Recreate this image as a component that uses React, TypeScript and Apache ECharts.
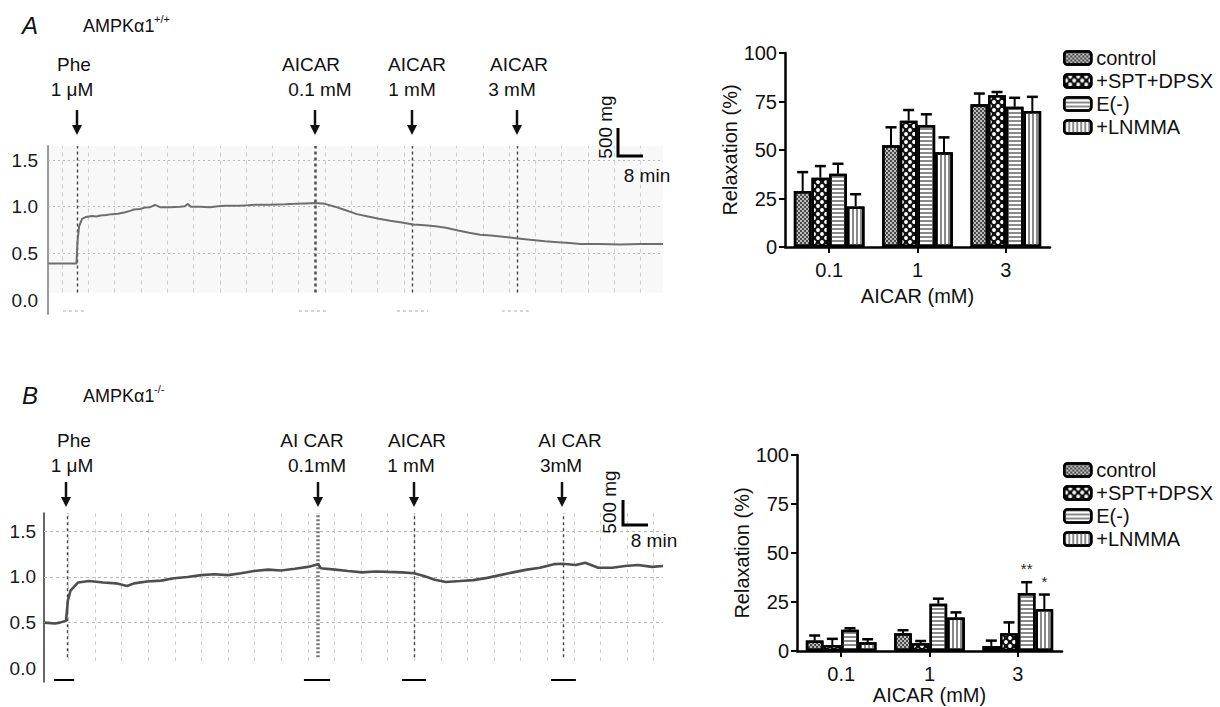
import React, { useEffect, useRef } from 'react';
import * as echarts from 'echarts';

const FONT = '"Liberation Sans", Arial, Helvetica, sans-serif';

// ---------- Bar charts ----------
const groups = ['0.1', '1', '3'];
const seriesNames = ['control', '+SPT+DPSX', 'E(-)', '+LNMMA'];

// Panel A (AMPKα1+/+), relaxation (%) mean and SEM
const ctrlMeanA = [28.9, 52.4, 73.6];
const ctrlSemA = [9.7, 9.3, 5.5];
const sptMeanA = [35.7, 65.1, 78.2];
const sptSemA = [6.0, 5.5, 1.7];
const eMeanA = [37.8, 62.9, 72.3];
const eSemA = [5.1, 5.5, 4.6];
const lnMeanA = [20.9, 48.8, 70.1];
const lnSemA = [6.3, 7.7, 7.3];

// Panel B (AMPKα1-/-)
const ctrlMeanB = [5.3, 9.1, 2.6];
const ctrlSemB = [2.6, 1.5, 2.7];
const sptMeanB = [3.1, 3.9, 9.1];
const sptSemB = [3.1, 1.2, 5.5];
const eMeanB = [10.8, 24.1, 29.6];
const eSemB = [0.8, 2.6, 5.5];
const lnMeanB = [4.5, 17.1, 21.4];
const lnSemB = [1.5, 2.6, 7.4];
const sigE_B = ['', '', '**'];
const sigLn_B = ['', '', '*'];

const yTicksBar = [0, 25, 50, 75, 100];

// ---------- Tension traces (time in min, tension in g) ----------
const traceATime = [-4.2, -2, 2, 4.4, 4.7, 5.2, 6.1, 7.3, 9.1, 10.5, 11.6, 13.4, 15.2, 17.0, 19.2, 20.7, 21.9, 23.7, 25.2, 26.8, 28.3, 29.8, 32.9, 35.9, 37.4, 38.3, 39.2, 42.0, 45.0, 47.5, 49.6, 54.1, 56.5, 58.7, 63.3, 67.8, 70.9, 73.9, 77.0, 80.0, 83.0, 86.1, 89.7, 93.1, 96.4, 99.8, 103.4, 106.8, 110.4, 113.5, 116.8, 120.5, 123.8, 127.2, 130.5, 134.8, 138.7, 142.4, 146.9, 150.9, 154.5, 157.6, 163.7, 169.7, 175.8, 182.8];
const traceAValue = [0.39, 0.39, 0.39, 0.39, 0.62, 0.79, 0.87, 0.89, 0.90, 0.895, 0.905, 0.91, 0.92, 0.925, 0.94, 0.955, 0.97, 0.975, 0.99, 0.995, 1.02, 0.995, 0.995, 1.0, 1.005, 1.03, 1.0, 1.0, 0.995, 1.005, 1.01, 1.01, 1.015, 1.02, 1.02, 1.025, 1.03, 1.035, 1.04, 1.03, 1.0, 0.965, 0.92, 0.895, 0.87, 0.85, 0.83, 0.81, 0.80, 0.79, 0.775, 0.745, 0.72, 0.70, 0.69, 0.675, 0.66, 0.645, 0.63, 0.62, 0.61, 0.60, 0.60, 0.595, 0.60, 0.60];
const eventsA = [4.6, 77.0, 106.5, 138.4];
const underMarksA = [[0.3, 7.6], [72.1, 80.9], [101.9, 111.3], [133.8, 142.7]];
const xRangeA = [-4.26, 182.8];

const traceBTime = [-7.2, -4.1, -2.6, -0.75, -0.2, 0.6, 2.9, 6.2, 10.4, 14.3, 17.6, 19.7, 23.6, 27.8, 31.7, 35.8, 39.9, 43.8, 48.0, 51.9, 55.8, 60.0, 63.9, 68.1, 72.0, 75.1, 75.9, 80.2, 84.1, 88.3, 92.2, 96.1, 100.3, 103.9, 106.9, 110.2, 113.5, 117.8, 121.7, 125.9, 129.8, 133.7, 137.9, 141.8, 146.0, 148.7, 152.6, 155.4, 159.3, 163.5, 167.4, 171.3, 175.5, 178.8];
const traceBValue = [0.50, 0.49, 0.50, 0.52, 0.74, 0.85, 0.94, 0.955, 0.94, 0.93, 0.90, 0.93, 0.95, 0.96, 0.985, 1.00, 1.02, 1.03, 1.02, 1.04, 1.065, 1.08, 1.07, 1.09, 1.11, 1.14, 1.095, 1.08, 1.065, 1.05, 1.06, 1.055, 1.05, 1.04, 1.01, 0.97, 0.945, 0.955, 0.965, 0.99, 1.02, 1.05, 1.08, 1.10, 1.14, 1.145, 1.13, 1.155, 1.10, 1.10, 1.12, 1.13, 1.11, 1.12];
const eventsB = [-0.45, 75.1, 103.9, 148.7];
const underMarksB = [[-4.4, 1.7], [70.8, 78.7], [100.3, 107.5], [145.1, 152.6]];
const xRangeB = [-7.37, 178.8];

const gridMinutes = [0, 8, 16, 24, 32, 40, 48, 56, 64, 72, 80, 88, 96, 104, 112, 120, 128, 136, 144, 152, 160, 168, 176];
const hGridValues = [0.5, 1.0, 1.5];
const traceYTicks = [0, 0.5, 1.0, 1.5];

// ---------- styles ----------
const barColors = ['#bdbdbd', '#111111', '#ffffff', '#ffffff'];
const barDecals: any[] = [
  { symbol: 'rect', symbolSize: 1, dashArrayX: [[2, 2], [0, 2, 2, 0]], dashArrayY: [2, 0], color: '#4a4a4a' },
  { symbol: 'circle', symbolSize: 0.95, dashArrayX: [[3.5, 3.5], [0, 3.5, 3.5, 0]], dashArrayY: [3.5, 0], color: '#ffffff' },
  { symbol: 'rect', symbolSize: 1, dashArrayX: [1, 0], dashArrayY: [2, 2], color: '#8a8a8a' },
  { symbol: 'rect', symbolSize: 1, dashArrayX: [2, 2], dashArrayY: [1, 0], color: '#8a8a8a' },
];

function zip(a: number[], b: number[]) {
  return a.map((t, i) => [t, b[i]]);
}

function barSeries(k: number, means: number[], axis: number) {
  return {
    type: 'bar',
    name: seriesNames[k],
    xAxisIndex: axis,
    yAxisIndex: axis,
    data: means,
    barGap: '0%',
    barCategoryGap: '20%',
    z: 2,
    itemStyle: { color: barColors[k], borderColor: '#000', borderWidth: 2.5, decal: barDecals[k] },
  };
}

function errSeries(k: number, means: number[], sems: number[], axis: number, sig?: string[]) {
  return {
    type: 'custom',
    xAxisIndex: axis,
    yAxisIndex: axis,
    z: 4,
    silent: true,
    data: means.map((m, i) => [i, m, sems[i]]),
    encode: { x: 0, y: 1 },
    renderItem: (params: any, api: any) => {
      const ci = api.value(0);
      const m = api.value(1);
      const s = api.value(2);
      const p = api.coord([ci, m]);
      const band = api.size([1, 0])[0];
      const bw = (band * 0.8) / 4;
      const x = p[0] - band * 0.4 + (k + 0.5) * bw;
      const yTop = api.coord([ci, m + s])[1];
      const children: any[] = [
        { type: 'line', shape: { x1: x, y1: p[1], x2: x, y2: yTop }, style: { stroke: '#000', lineWidth: 2 } },
        { type: 'line', shape: { x1: x - 5.5, y1: yTop, x2: x + 5.5, y2: yTop }, style: { stroke: '#000', lineWidth: 2.5 } },
      ];
      const t = sig ? sig[params.dataIndex] : '';
      if (t) {
        children.push({
          type: 'text',
          style: { text: t, x, y: yTop - 6, align: 'center', verticalAlign: 'bottom', fontSize: 15, fill: '#222', fontFamily: FONT },
        });
      }
      return { type: 'group', children };
    },
  };
}

function traceDecor(axis: number, xr: number[], events: number[], under: number[][], panel: 'A' | 'B') {
  const vStyle = { color: panel === 'A' ? '#cfcfcf' : '#d2d2d2', width: 1, type: [4, 4] };
  const hStyle = { color: '#b8b8b8', width: 1.2, type: panel === 'A' ? [2, 3] : [3, 3] };
  const lineData: any[] = [];
  hGridValues.forEach((v) => lineData.push({ yAxis: v, lineStyle: hStyle }));
  gridMinutes.forEach((t) =>
    lineData.push([
      { coord: [t, 0.08], lineStyle: vStyle },
      { coord: [t, panel === 'A' ? 1.65 : 1.7], lineStyle: vStyle },
    ])
  );
  events.forEach((t, i) => {
    let st: any = { color: '#444', width: 1.4, type: [3, 3] };
    if (i === 1) st = panel === 'A' ? { color: '#555', width: 2.6, type: [3, 3] } : { color: '#777', width: 3.5, type: [2, 2] };
    lineData.push([
      { coord: [t, panel === 'A' ? 0.08 : 0.12], lineStyle: st },
      { coord: [t, panel === 'A' ? 1.65 : 1.7], lineStyle: st },
    ]);
  });
  under.forEach(([a, b]) => {
    const st = panel === 'A' ? { color: '#c8c8c8', width: 1.5, type: [3, 3] } : { color: '#000', width: 2, type: 'solid' };
    lineData.push([
      { coord: [a, -0.12], lineStyle: st },
      { coord: [b, -0.12], lineStyle: st },
    ]);
  });
  const s: any = {
    type: 'line',
    xAxisIndex: axis,
    yAxisIndex: axis,
    data: [],
    z: 1,
    silent: true,
    markLine: { silent: true, z: 1, symbol: ['none', 'none'], label: { show: false }, data: lineData },
  };
  if (panel === 'A') {
    s.markArea = {
      silent: true,
      z: 0,
      itemStyle: { color: '#f8f8f8' },
      data: [[{ coord: [xr[0], 0.08] }, { coord: [xr[1], 1.65] }]],
    };
  }
  return s;
}

function traceAxisY(gridIndex: number, max: number, lineColor: string, lineWidth: number, margin: number) {
  return {
    type: 'value',
    gridIndex,
    min: -0.15,
    max,
    interval: 0.05,
    axisLine: { show: true, onZero: false, lineStyle: { color: lineColor, width: lineWidth } },
    axisTick: { show: false },
    splitLine: { show: false },
    axisLabel: {
      fontSize: 19,
      color: '#1a1a1a',
      fontFamily: FONT,
      margin,
      formatter: (v: number) => {
        const hit = traceYTicks.find((t) => Math.abs(t - v) < 1e-6);
        return hit === undefined ? '' : hit.toFixed(1);
      },
    },
  };
}

function barAxisX(gridIndex: number, nameGap: number) {
  return {
    type: 'category',
    gridIndex,
    data: groups,
    axisLine: { show: true, onZero: false, lineStyle: { color: '#000', width: 2.5 } },
    axisTick: { show: true, alignWithLabel: true, length: 6, lineStyle: { color: '#000', width: 2 } },
    axisLabel: { fontSize: 20, color: '#111', fontFamily: FONT, margin: 13 },
    name: 'AICAR (mM)',
    nameLocation: 'middle',
    nameGap,
    nameTextStyle: { fontSize: 20, color: '#111', fontFamily: FONT },
  };
}

function barAxisY(gridIndex: number) {
  return {
    type: 'value',
    gridIndex,
    min: yTicksBar[0],
    max: yTicksBar[yTicksBar.length - 1],
    interval: 25,
    axisLine: { show: true, onZero: false, lineStyle: { color: '#000', width: 2.5 } },
    axisTick: { show: true, length: 6, lineStyle: { color: '#000', width: 2 } },
    splitLine: { show: false },
    axisLabel: { fontSize: 20, color: '#111', fontFamily: FONT, margin: 8 },
    name: 'Relaxation (%)',
    nameLocation: 'middle',
    nameRotate: 90,
    nameGap: 42,
    nameTextStyle: { fontSize: 20, color: '#111', fontFamily: FONT },
  };
}

function txt(text: string, x: number, y: number, size = 19, extra: any = {}, align = 'center') {
  return {
    type: 'text',
    x,
    y,
    z: 100,
    style: { text, fill: '#111', fontSize: size, fontFamily: FONT, align, verticalAlign: 'middle', ...extra },
  };
}

function arrow(x: number, y1: number, y2: number) {
  return [
    { type: 'line', z: 100, shape: { x1: x, y1, x2: x, y2: y2 - 8 }, style: { stroke: '#111', lineWidth: 2.5 } },
    { type: 'polygon', z: 100, shape: { points: [[x - 5, y2 - 10], [x + 5, y2 - 10], [x, y2]] }, style: { fill: '#111' } },
  ];
}

function scaleBar(x: number, yTop: number, yBot: number, len: number) {
  return {
    type: 'polyline',
    z: 100,
    shape: { points: [[x, yTop], [x, yBot], [x + len, yBot]] },
    style: { stroke: '#000', lineWidth: 3, fill: 'none' },
  };
}

function buildOption() {
  const graphics: any[] = [
    // Panel A header
    txt('A', 22, 25, 24, { fontStyle: 'italic' }, 'left'),
    txt('AMPKα1', 83, 26, 18, {}, 'left'),
    txt('+/+', 154, 19, 11, {}, 'left'),
    txt('Phe', 74, 64),
    txt('1 μM', 72, 89),
    ...arrow(77, 110, 135),
    txt('AICAR', 311, 64),
    txt('0.1 mM', 320, 89),
    ...arrow(315, 110, 135),
    txt('AICAR', 417, 64),
    txt('1 mM', 412, 89),
    ...arrow(412, 110, 135),
    txt('AICAR', 519, 64),
    txt('3 mM', 512, 89),
    ...arrow(517, 110, 135),
    { ...txt('500 mg', 605, 127), rotation: Math.PI / 2 },
    scaleBar(618, 128, 156, 25),
    txt('8 min', 647, 175),
    // Panel B header
    txt('B', 22, 395, 24, { fontStyle: 'italic' }, 'left'),
    txt('AMPKα1', 83, 396, 18, {}, 'left'),
    txt('-/-', 154, 389, 11, {}, 'left'),
    txt('Phe', 74, 440),
    txt('1 μM', 72, 465),
    ...arrow(66, 482, 507),
    txt('AI CAR', 312, 440),
    txt('0.1mM', 317, 465),
    ...arrow(318, 482, 507),
    txt('AICAR', 417, 440),
    txt('1 mM', 411, 465),
    ...arrow(414, 482, 507),
    txt('AI CAR', 570, 440),
    txt('3mM', 561, 465),
    ...arrow(562, 482, 507),
    { ...txt('500 mg', 609, 502), rotation: Math.PI / 2 },
    scaleBar(623, 500, 525, 25),
    txt('8 min', 654, 540),
  ];

  const legendBase = {
    orient: 'vertical',
    left: 1058,
    itemWidth: 27,
    itemHeight: 13,
    itemGap: 3,
    icon: 'roundRect',
    selectedMode: false,
    data: seriesNames,
    itemStyle: { borderColor: '#000', borderWidth: 2.5 },
    textStyle: { fontSize: 20, lineHeight: 20, color: '#111', fontFamily: FONT },
  };

  return {
    animation: false,
    backgroundColor: '#ffffff',
    textStyle: { fontFamily: FONT },
    grid: [
      { left: 48, right: 557, top: 146, bottom: 393, outerBoundsMode: 'none' },
      { left: 44, right: 557, top: 513, bottom: 25, outerBoundsMode: 'none' },
      { left: 785, right: 170, top: 53, bottom: 460, outerBoundsMode: 'none' },
      { left: 797, right: 158, top: 455, bottom: 56, outerBoundsMode: 'none' },
    ],
    xAxis: [
      { type: 'value', gridIndex: 0, min: xRangeA[0], max: xRangeA[1], show: false },
      { type: 'value', gridIndex: 1, min: xRangeB[0], max: xRangeB[1], show: false },
      barAxisX(2, 39),
      barAxisX(3, 34),
    ],
    yAxis: [
      traceAxisY(0, 1.65, '#9a9a9a', 2, 10),
      traceAxisY(1, 1.7, '#333', 1.5, 8),
      barAxisY(2),
      barAxisY(3),
    ],
    legend: [
      { ...legendBase, top: 43 },
      { ...legendBase, top: 455 },
    ],
    graphic: graphics,
    series: [
      traceDecor(0, xRangeA, eventsA, underMarksA, 'A'),
      traceDecor(1, xRangeB, eventsB, underMarksB, 'B'),
      {
        type: 'line', xAxisIndex: 0, yAxisIndex: 0, data: zip(traceATime, traceAValue),
        showSymbol: false, symbol: 'none', z: 3, silent: true,
        lineStyle: { color: '#6e6e6e', width: 2 },
      },
      {
        type: 'line', xAxisIndex: 1, yAxisIndex: 1, data: zip(traceBTime, traceBValue),
        showSymbol: false, symbol: 'none', z: 3, silent: true,
        lineStyle: { color: '#4e4e4e', width: 2.6 },
      },
      barSeries(0, ctrlMeanA, 2),
      barSeries(1, sptMeanA, 2),
      barSeries(2, eMeanA, 2),
      barSeries(3, lnMeanA, 2),
      errSeries(0, ctrlMeanA, ctrlSemA, 2),
      errSeries(1, sptMeanA, sptSemA, 2),
      errSeries(2, eMeanA, eSemA, 2),
      errSeries(3, lnMeanA, lnSemA, 2),
      barSeries(0, ctrlMeanB, 3),
      barSeries(1, sptMeanB, 3),
      barSeries(2, eMeanB, 3),
      barSeries(3, lnMeanB, 3),
      errSeries(0, ctrlMeanB, ctrlSemB, 3),
      errSeries(1, sptMeanB, sptSemB, 3),
      errSeries(2, eMeanB, eSemB, 3, sigE_B),
      errSeries(3, lnMeanB, lnSemB, 3, sigLn_B),
    ],
  };
}

export default function App() {
  const ref = useRef<HTMLDivElement>(null);
  useEffect(() => {
    if (!ref.current) return;
    const chart = echarts.init(ref.current, null, { renderer: 'svg' });
    chart.setOption(buildOption() as any);
    return () => chart.dispose();
  }, []);
  return (
    <div
      ref={ref}
      style={{ position: 'fixed', left: 0, top: 0, width: 1220, height: 707, background: '#fff' }}
    />
  );
}
